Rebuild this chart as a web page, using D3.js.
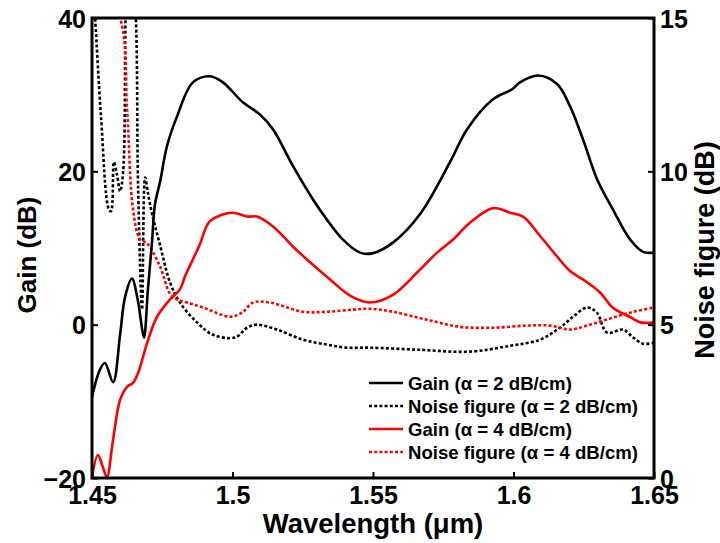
<!DOCTYPE html>
<html>
<head>
<meta charset="utf-8">
<script src="https://cdn.jsdelivr.net/npm/d3@7"></script>
<style>
  html, body { margin: 0; padding: 0; background: #fff; }
  svg { display: block; }
  text { font-family: "Liberation Sans", Arial, Helvetica, sans-serif; font-weight: bold; }
</style>
</head>
<body>
<svg id="chart" width="720" height="543"></svg>
<script>
// ---- Data ----
const gain2Wl = [1.4500, 1.4528, 1.4546, 1.4575, 1.4600, 1.4617, 1.4642, 1.4664, 1.4674, 1.4685, 1.4699, 1.4714, 1.4724, 1.4742, 1.4767, 1.4803, 1.4859, 1.4920, 1.4966, 1.5037, 1.5098, 1.5144, 1.5215, 1.5287, 1.5336, 1.5393, 1.5454, 1.5497, 1.5571, 1.5667, 1.5774, 1.5835, 1.5927, 1.5995, 1.6023, 1.6087, 1.6155, 1.6201, 1.6247, 1.6297, 1.6354, 1.6415, 1.6461, 1.6500];
const gain2Val = [-9.4, -5.9, -5.0, -7.5, -1.3, 3.5, 6.0, 3.0, 0.5, -1.7, 4.6, 11.0, 15.7, 18.6, 23.3, 27.2, 31.6, 32.4, 31.6, 29.0, 27.4, 25.5, 20.7, 16.3, 13.7, 11.1, 9.4, 9.3, 10.7, 14.4, 21.2, 25.5, 29.4, 30.7, 31.6, 32.5, 31.4, 28.5, 24.2, 19.0, 15.0, 11.1, 9.5, 9.4];

const gain4Wl = [1.4500, 1.4521, 1.4539, 1.4553, 1.4575, 1.4600, 1.4625, 1.4646, 1.4664, 1.4696, 1.4731, 1.4778, 1.4813, 1.4831, 1.4859, 1.4884, 1.4920, 1.4998, 1.5052, 1.5087, 1.5144, 1.5215, 1.5265, 1.5347, 1.5418, 1.5489, 1.5571, 1.5657, 1.5728, 1.5785, 1.5845, 1.5927, 1.5988, 1.6034, 1.6094, 1.6155, 1.6201, 1.6247, 1.6308, 1.6354, 1.6415, 1.6451, 1.6500];
const gain4Val = [-19.9, -17.0, -18.6, -19.9, -15.0, -9.8, -8.1, -7.6, -6.3, -2.4, 1.0, 3.3, 4.6, 6.3, 8.5, 10.5, 13.5, 14.6, 14.1, 14.1, 12.8, 10.2, 8.5, 5.9, 3.8, 2.9, 3.9, 6.8, 9.4, 11.1, 13.3, 15.2, 14.6, 14.1, 11.6, 8.9, 7.0, 5.9, 4.2, 2.2, 1.0, 0.3, 0.3];

const nf2Wl = [1.4500, 1.4511, 1.4532, 1.4560, 1.4568, 1.4578, 1.4589, 1.4600, 1.4611, 1.4621, 1.4632, 1.4653, 1.4664, 1.4678, 1.4689, 1.4699, 1.4714, 1.4742, 1.4778, 1.4813, 1.4874, 1.4931, 1.5009, 1.5052, 1.5087, 1.5158, 1.5251, 1.5336, 1.5407, 1.5489, 1.5667, 1.5845, 1.5987, 1.6094, 1.6165, 1.6212, 1.6262, 1.6297, 1.6333, 1.6390, 1.6426, 1.6461, 1.6500];
const nf2Val = [16.5, 15.0, 11.8, 8.76, 8.7, 10.3, 9.9, 9.35, 10.0, 15.5, 17.0, 15.5, 9.5, 5.5, 9.8, 9.3, 8.6, 7.6, 6.37, 5.72, 5.07, 4.67, 4.58, 4.90, 5.0, 4.84, 4.51, 4.35, 4.25, 4.25, 4.18, 4.12, 4.31, 4.51, 4.9, 5.26, 5.56, 5.39, 4.74, 4.84, 4.58, 4.38, 4.41];

const nf4Wl = [1.4482, 1.4600, 1.4625, 1.4646, 1.4671, 1.4696, 1.4742, 1.4778, 1.4803, 1.4838, 1.4895, 1.4991, 1.5034, 1.5073, 1.5134, 1.5251, 1.5336, 1.5429, 1.5489, 1.5571, 1.5692, 1.5809, 1.5927, 1.6048, 1.6130, 1.6201, 1.6272, 1.6354, 1.6426, 1.6500];
const nf4Val = [17.0, 15.0, 12.0, 8.76, 7.78, 7.65, 6.9, 6.0, 5.82, 5.72, 5.56, 5.26, 5.39, 5.72, 5.72, 5.42, 5.42, 5.49, 5.52, 5.42, 5.16, 4.93, 4.90, 4.97, 4.97, 4.84, 5.0, 5.23, 5.42, 5.56];

const xTicks = [1.45, 1.5, 1.55, 1.6, 1.65];
const xTickLabels = ["1.45", "1.5", "1.55", "1.6", "1.65"];
const yLeftTicks = [-20, 0, 20, 40];
const yRightTicks = [0, 5, 10, 15];

const legendLabels = [
  "Gain (\u03b1 = 2 dB/cm)",
  "Noise figure (\u03b1 = 2 dB/cm)",
  "Gain (\u03b1 = 4 dB/cm)",
  "Noise figure (\u03b1 = 4 dB/cm)"
];

// ---- Layout ----
const L = 92, R = 654, T = 18, B = 478;
const svg = d3.select("#chart");

const x = d3.scaleLinear().domain([1.45, 1.65]).range([L, R]);
const yL = d3.scaleLinear().domain([-20, 40]).range([B, T]);
const yR = d3.scaleLinear().domain([0, 15]).range([B, T]);

svg.append("defs").append("clipPath").attr("id", "plotclip")
  .append("rect").attr("x", L).attr("y", T).attr("width", R - L).attr("height", B - T);

const series = [
  { wl: gain2Wl, v: gain2Val, scale: yL, color: "#000", dash: null },
  { wl: nf2Wl,   v: nf2Val,   scale: yR, color: "#000", dash: "3,2.2" },
  { wl: gain4Wl, v: gain4Val, scale: yL, color: "#ff0000", dash: null },
  { wl: nf4Wl,   v: nf4Val,   scale: yR, color: "#ff0000", dash: "3,2.2" }
];

const g = svg.append("g").attr("clip-path", "url(#plotclip)");
[1, 3, 0, 2].forEach(i => {
  const s = series[i];
  const pts = s.wl.map((w, k) => [w, s.v[k]]);
  const line = d3.line()
    .x(d => x(d[0]))
    .y(d => s.scale(d[1]))
    .curve(d3.curveCatmullRom.alpha(0.5));
  g.append("path")
    .attr("d", line(pts))
    .attr("fill", "none")
    .attr("stroke", s.color)
    .attr("stroke-width", 2.6)
    .attr("stroke-dasharray", s.dash)
    .attr("stroke-linejoin", "round");
});

// ---- Axes ----
const tickFont = 25;
const xAxis = d3.axisBottom(x).tickValues(xTicks)
  .tickFormat((d, i) => xTickLabels[i]).tickSizeInner(-6).tickSizeOuter(0).tickPadding(10);
const gx = svg.append("g").attr("transform", `translate(0,${B})`).call(xAxis);

const yAxisL = d3.axisLeft(yL).tickValues(yLeftTicks)
  .tickFormat(d3.format("d")).tickSizeInner(-6).tickSizeOuter(0).tickPadding(6);
const gyl = svg.append("g").attr("transform", `translate(${L},0)`).call(yAxisL);

const yAxisR = d3.axisRight(yR).tickValues(yRightTicks)
  .tickFormat(d3.format("d")).tickSizeInner(-6).tickSizeOuter(0).tickPadding(6);
const gyr = svg.append("g").attr("transform", `translate(${R},0)`).call(yAxisR);

[gx, gyl, gyr].forEach(ax => {
  ax.select(".domain").remove();
  ax.selectAll(".tick line").attr("stroke", "#000").attr("stroke-width", 2);
  ax.selectAll(".tick text").attr("fill", "#000")
    .style("font-size", tickFont + "px").style("font-weight", "bold")
    .style("font-family", "'Liberation Sans', Arial, sans-serif");
});
gx.selectAll(".tick text").attr("dy", "0.62em");
gyl.selectAll(".tick text").attr("dy", "0.36em");
gyr.selectAll(".tick text").attr("dy", "0.36em");

// box
svg.append("rect").attr("x", L).attr("y", T).attr("width", R - L).attr("height", B - T)
  .attr("fill", "none").attr("stroke", "#000").attr("stroke-width", 3);

// axis titles
svg.append("text").attr("x", (L + R) / 2).attr("y", 533)
  .attr("text-anchor", "middle").style("font-size", "27.5px").text("Wavelength (\u03bcm)");
svg.append("text").attr("transform", `translate(36,${(T + B) / 2 + 7}) rotate(-90)`)
  .attr("text-anchor", "middle").style("font-size", "26px").text("Gain (dB)");
svg.append("text").attr("transform", `translate(714,${(T + B) / 2 + 2}) rotate(-90)`)
  .attr("text-anchor", "middle").style("font-size", "27px").text("Noise figure (dB)");

// ---- Legend ----
const legY0 = 383, legDy = 23, legX0 = 369, legX1 = 403, legTx = 408;
const leg = svg.append("g");
legendLabels.forEach((lab, i) => {
  const s = series[i];
  const yy = legY0 + i * legDy;
  leg.append("line").attr("x1", legX0).attr("x2", legX1).attr("y1", yy).attr("y2", yy)
    .attr("stroke", s.color).attr("stroke-width", 2.6).attr("stroke-dasharray", s.dash);
  leg.append("text").attr("x", legTx).attr("y", yy).attr("dy", "0.36em")
    .style("font-size", "18.6px").text(lab);
});
</script>
</body>
</html>
